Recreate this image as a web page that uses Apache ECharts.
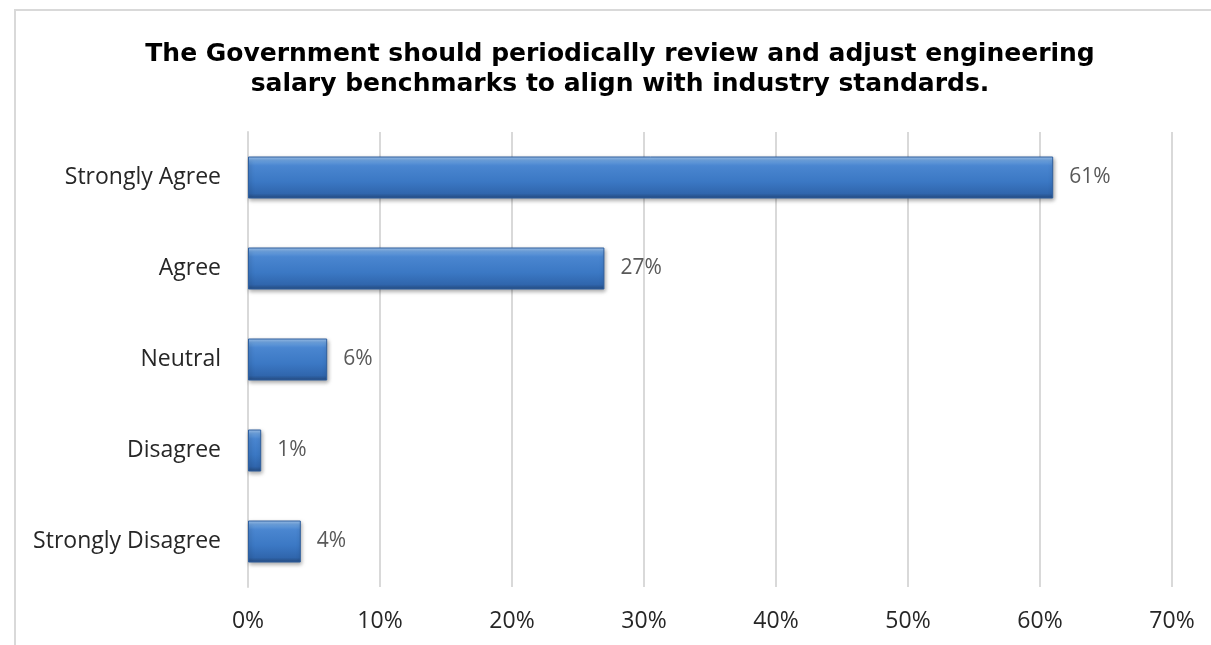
<!DOCTYPE html>
<html>
<head>
<meta charset="utf-8">
<script src="https://cdn.jsdelivr.net/npm/echarts@6/dist/echarts.min.js"></script>
<style>
  html, body { margin: 0; padding: 0; background: #ffffff; }
  #frame { position: absolute; left: 14px; top: 9px; width: 1220px; height: 660px; border-left: 2px solid #d9d9d9; border-top: 2px solid #d9d9d9; box-sizing: border-box; }
  #chart { position: absolute; left: 0; top: 0; width: 1211px; height: 645px; }
</style>
</head>
<body>
<div id="frame"></div>
<div id="chart"></div>
<script>
// Survey responses (percent of respondents)
const titleLines = [
  'The Government should periodically review and adjust engineering',
  'salary benchmarks to align with industry standards.'
];
const categories = ['Strongly Disagree', 'Disagree', 'Neutral', 'Agree', 'Strongly Agree'];
const values = [4, 1, 6, 27, 61];
const axisMax = 70;
const axisStep = 10;

const chart = echarts.init(document.getElementById('chart'), null, { renderer: 'canvas' });

const barFill = new echarts.graphic.LinearGradient(0, 0, 0, 1, [
  { offset: 0, color: '#a3c8f2' },
  { offset: 0.1, color: '#6aa1e0' },
  { offset: 0.22, color: '#4a86d0' },
  { offset: 0.6, color: '#3b78c4' },
  { offset: 0.88, color: '#3066ad' },
  { offset: 1, color: '#254b80' }
]);

chart.setOption({
  animation: false,
  title: {
    text: titleLines.join('\n'),
    left: 615,
    textAlign: 'center',
    top: 34,
    textStyle: {
      fontFamily: '"DejaVu Sans", sans-serif',
      fontWeight: 'bold',
      fontSize: 25,
      lineHeight: 30,
      color: '#000000'
    }
  },
  grid: { left: 248, right: 39, top: 132, bottom: 58, containLabel: false },
  xAxis: {
    type: 'value',
    min: 0,
    max: axisMax,
    interval: axisStep,
    axisLine: { show: false },
    axisTick: { show: false },
    splitLine: { lineStyle: { color: '#d9d9d9', width: 2 } },
    axisLabel: {
      formatter: v => v + '%',
      margin: 23,
      fontFamily: '"Open Sans", sans-serif',
      fontSize: 23,
      color: '#262626'
    }
  },
  yAxis: {
    type: 'category',
    data: categories,
    axisLine: { show: true, lineStyle: { color: '#d9d9d9', width: 2 } },
    axisTick: { show: false },
    axisLabel: {
      margin: 27,
      fontFamily: '"Open Sans", sans-serif',
      fontSize: 23,
      color: '#262626'
    }
  },
  series: [{
    type: 'bar',
    data: values,
    barWidth: 42,
    itemStyle: {
      color: barFill,
      borderColor: '#2f5f9e',
      borderWidth: 1,
      shadowColor: 'rgba(0,0,0,0.35)',
      shadowBlur: 4,
      shadowOffsetX: 1,
      shadowOffsetY: 2
    },
    label: {
      show: true,
      position: 'right',
      distance: 16,
      formatter: p => p.value + '%',
      fontFamily: '"Open Sans", sans-serif',
      fontSize: 21,
      color: '#595959'
    }
  }]
});
</script>
</body>
</html>
